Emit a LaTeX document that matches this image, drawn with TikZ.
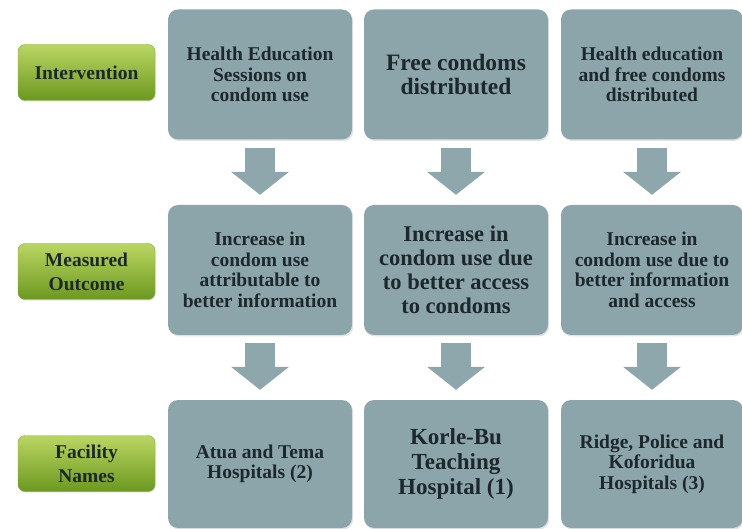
\documentclass[tikz,border=0pt]{standalone}
\usepackage{fontspec}
\setmainfont{Liberation Serif}
\usepackage{tikz}
\usetikzlibrary{arrows.meta,shadows}
\definecolor{ardosia}{HTML}{8CA5AB}
\definecolor{seta}{HTML}{8EA7AD}
\definecolor{verdeclaro}{HTML}{BAD662}
\definecolor{verdeescuro}{HTML}{6C9820}
\definecolor{tinta}{HTML}{1C282C}

\begin{document}
\begin{tikzpicture}[
      x=1pt, y=-1pt,
      box/.style={fill=ardosia,rounded corners=10pt,minimum width=184pt,minimum height=130pt,
        align=center,text=tinta,font=\bfseries,inner sep=2pt,
        drop shadow={opacity=0.22,shadow xshift=1.2pt,shadow yshift=-1.5pt}},
      tag/.style={draw=verdeescuro!80,top color=verdeclaro,bottom color=verdeescuro,rounded corners=7pt,
        minimum width=137pt,minimum height=56pt,align=center,text=tinta,font=\bfseries\fontsize{19.5}{24}\selectfont,
        drop shadow={opacity=0.2,shadow xshift=1pt,shadow yshift=-1.2pt}},
      flow/.style={draw=seta,line width=30pt,-{Triangle[width=58pt,length=23pt,line width=0pt]},shorten <=8pt,shorten >=10pt},
      sm/.style={font=\bfseries\fontsize{19.5}{20.5}\selectfont},
      lg/.style={font=\bfseries\fontsize{22.5}{24}\selectfont},
    ]
  \useasboundingbox (0,0) rectangle (742,529);
  % row labels
  \node[tag] (lint) at (86.5,72.5) {Intervention};
  \node[tag] (lout) at (86.5,271.5) {Measured\\Outcome};
  \node[tag] (lfac) at (86.5,463.5) {Facility\\Names};
  % interventions
  \node[box,sm] (int1) at (260,74.5) {Health Education\\Sessions on\\condom use};
  \node[box,font=\bfseries\fontsize{23.5}{24}\selectfont] (int2) at (456,74.5) {Free condoms\\distributed};
  \node[box,sm,minimum width=182pt] (int3) at (652,74.5) {Health education\\and free condoms\\distributed};
  % outcomes
  \node[box,sm] (out1) at (260,270) {Increase in\\condom use\\attributable to\\better information};
  \node[box,lg] (out2) at (456,270) {Increase in\\condom use due\\to better access\\to condoms};
  \node[box,sm,minimum width=182pt] (out3) at (652,270) {Increase in\\condom use due to\\better information\\and access};
  % facilities
  \node[box,sm,minimum height=128pt] (fac1) at (260,464) {Atua and Tema\\Hospitals (2)};
  \node[box,font=\bfseries\fontsize{23}{25}\selectfont,minimum height=128pt] (fac2) at (456,464) {Korle-Bu\\Teaching\\Hospital (1)};
  \node[box,sm,minimum width=182pt,minimum height=128pt] (fac3) at (652,464) {Ridge, Police and\\Koforidua\\Hospitals (3)};
  % arrows
  \foreach \c in {1,2,3}{
    \draw[flow] (int\c.south) -- (out\c.north);
    \draw[flow] (out\c.south) -- (fac\c.north);
  }
\end{tikzpicture}
\end{document}
